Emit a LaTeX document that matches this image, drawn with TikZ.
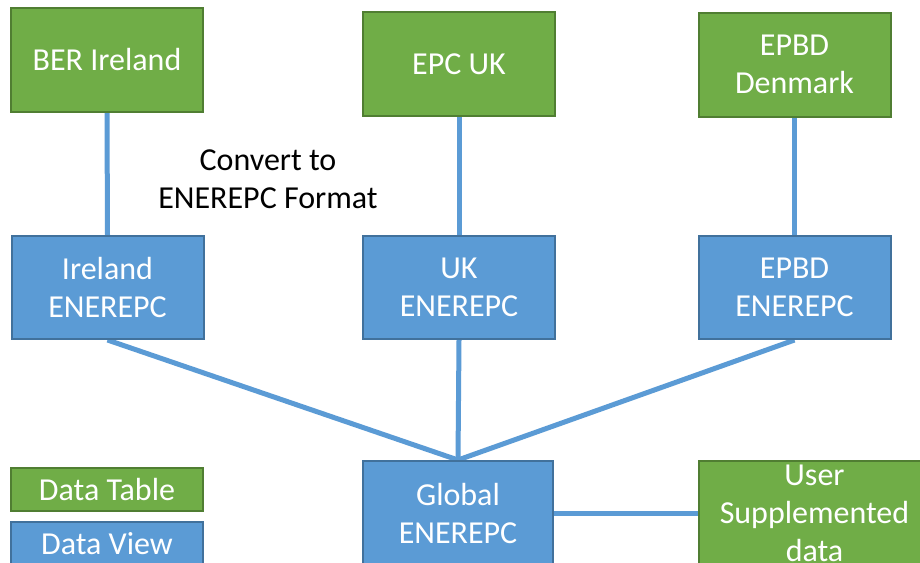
\documentclass[tikz,border=0pt]{standalone}
\usepackage{fontspec}
\setmainfont{Carlito}
\usetikzlibrary{backgrounds}
\definecolor{gfill}{HTML}{70AD47}
\definecolor{gdraw}{HTML}{507E32}
\definecolor{bfill}{HTML}{5B9BD5}
\definecolor{bdraw}{HTML}{41719C}
\tikzset{
  box/.style={rectangle, line width=2pt, text=white, align=center,
    font=\fontsize{32}{38}\selectfont, inner sep=0pt},
  gbox/.style={box, fill=gfill, draw=gdraw},
  bbox/.style={box, fill=bfill, draw=bdraw},
  conn/.style={draw=bfill, line width=5pt},
}
\begin{document}
\begin{tikzpicture}[x=1pt,y=-1pt]
\useasboundingbox (0,0) rectangle (920,562);
\clip (0,0) rectangle (920,562);
% top row (data tables)
\node[gbox, minimum width=192pt, minimum height=104pt] (ber) at (107,60) {BER Ireland};
\node[gbox, minimum width=192pt, minimum height=104pt] (epc) at (459,64) {EPC UK};
\node[gbox, minimum width=192pt, minimum height=104pt] (dk) at (794.5,64.5) {EPBD\\Denmark};
% middle row (views)
\node[bbox, minimum width=192pt, minimum height=103pt] (ire) at (107.5,287.5) {Ireland\\ENEREPC};
\node[bbox, minimum width=192pt, minimum height=103pt] (uk) at (459,287.5) {UK\\ENEREPC};
\node[bbox, minimum width=192pt, minimum height=103pt] (epbd) at (794.5,287.5) {EPBD\\ENEREPC};
% bottom
\node[bbox, minimum width=190pt, minimum height=104pt] (glob) at (458,513) {Global\\ENEREPC};
\node[gbox, minimum width=237pt, minimum height=104pt, anchor=west] (user) at (698,513) {\hspace*{-6pt}User\\\hspace*{-6pt}Supplemented\\\hspace*{-6pt}data};
% label
\node[font=\fontsize{32}{38}\selectfont, align=center, text=black] (conv) at (268,179) {Convert to\\ENEREPC Format};
% legend
\node[gbox, minimum width=192pt, minimum height=43pt] (leg1) at (107,489.5) {Data Table};
\node[bbox, minimum width=192pt, minimum height=43pt] (leg2) at (107,543.5) {Data View};
% connectors
\begin{scope}[on background layer]
\fill[white] (0,0) rectangle (920,562);
\draw[conn] (ber.south) -- (ire.north);
\draw[conn] (epc.south) -- (uk.north);
\draw[conn] (dk.south) -- (epbd.north);
\draw[conn] (ire.south) -- (glob.north);
\draw[conn] (uk.south) -- (glob.north);
\draw[conn] (epbd.south) -- (glob.north);
\draw[conn] (glob.east) -- (user.west);
\end{scope}
\end{tikzpicture}
\end{document}
